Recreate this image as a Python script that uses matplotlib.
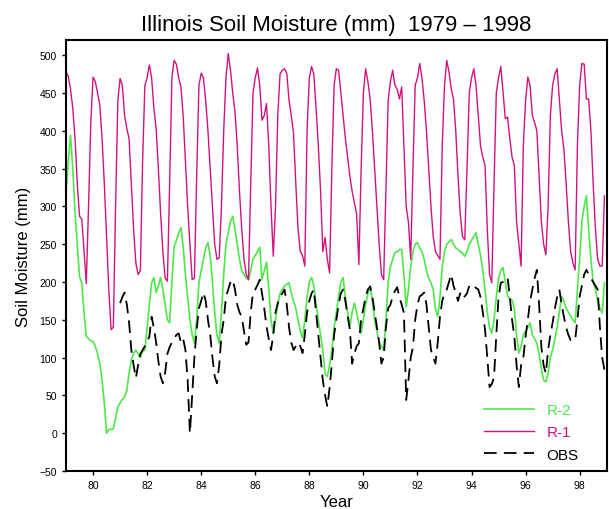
import numpy as np
import matplotlib
matplotlib.use('Agg')
import matplotlib.pyplot as plt

plt.rcParams['font.family'] = ['Liberation Sans', 'DejaVu Sans']

# monthly values, Jan..Dec, 1979-1998
r1 = [
    478, 472, 455, 430, 390, 330, 287, 283, 240, 198, 300, 410,   # 1979
    471, 465, 450, 434, 390, 330, 260, 190, 137, 140, 300, 440,   # 1980
    469, 460, 420, 403, 389, 330, 270, 225, 210, 215, 360, 460,   # 1981
    470, 487, 470, 430, 403, 350, 290, 240, 205, 201, 330, 470,   # 1982
    493, 488, 470, 458, 420, 360, 300, 250, 203, 205, 340, 460,   # 1983
    476, 470, 440, 400, 350, 300, 250, 230, 232, 300, 400, 470,   # 1984
    502, 480, 450, 425, 380, 320, 270, 230, 210, 203, 330, 450,   # 1985
    470, 483, 460, 414, 420, 436, 380, 300, 234, 300, 420, 475,   # 1986
    480, 482, 476, 440, 420, 396, 330, 270, 240, 235, 221, 400,   # 1987
    470, 485, 475, 430, 380, 320, 240, 259, 230, 212, 350, 460,   # 1988
    482, 480, 450, 420, 390, 365, 340, 320, 305, 290, 223, 350,   # 1989
    450, 482, 465, 442, 400, 350, 300, 250, 210, 203, 320, 440,   # 1990
    465, 480, 460, 455, 442, 458, 380, 300, 279, 230, 350, 460,   # 1991
    470, 489, 470, 440, 400, 350, 300, 260, 240, 235, 230, 380,   # 1992
    460, 493, 478, 455, 442, 400, 340, 290, 260, 256, 350, 450,   # 1993
    470, 482, 460, 420, 380, 365, 354, 270, 210, 199, 330, 450,   # 1994
    470, 485, 450, 416, 418, 390, 365, 354, 280, 250, 221, 380,   # 1995
    440, 471, 460, 420, 411, 400, 340, 280, 250, 236, 300, 420,   # 1996
    460, 475, 482, 440, 400, 376, 330, 280, 240, 225, 216, 380,   # 1997
    460, 489, 488, 442, 442, 400, 330, 270, 230, 221, 221, 314,   # 1998
]

r2 = [
    318, 360, 394, 350, 292, 250, 207, 199, 160, 128, 125, 122,   # 1979
    121, 115, 105, 92, 70, 40, 0, 5, 5, 6, 20, 35,                # 1980
    40, 45, 48, 57, 80, 97, 105, 110, 105, 100, 108, 110,         # 1981
    140, 170, 199, 206, 186, 195, 206, 190, 170, 150, 146, 200,   # 1982
    247, 255, 265, 272, 247, 210, 180, 150, 130, 119, 150, 199,   # 1983
    215, 230, 245, 252, 235, 200, 160, 130, 119, 160, 210, 250,   # 1984
    265, 280, 287, 270, 250, 230, 215, 210, 205, 203, 215, 230,   # 1985
    235, 240, 246, 203, 215, 226, 190, 150, 132, 150, 170, 185,   # 1986
    190, 195, 197, 199, 185, 175, 165, 150, 135, 126, 150, 180,   # 1987
    200, 206, 195, 170, 150, 130, 110, 79, 75, 90, 110, 140,      # 1988
    160, 180, 200, 206, 180, 160, 141, 160, 172, 160, 145, 132,   # 1989
    150, 170, 185, 194, 175, 150, 135, 120, 115, 110, 150, 200,   # 1990
    220, 230, 239, 240, 243, 243, 210, 167, 190, 220, 240, 250,   # 1991
    252, 245, 240, 230, 215, 205, 199, 190, 165, 154, 180, 220,   # 1992
    240, 250, 253, 256, 250, 245, 243, 240, 238, 234, 240, 250,   # 1993
    255, 260, 265, 250, 235, 216, 190, 160, 140, 132, 150, 180,   # 1994
    205, 215, 219, 200, 181, 178, 176, 165, 130, 106, 115, 130,   # 1995
    135, 140, 146, 130, 125, 119, 105, 85, 70, 68, 80, 100,       # 1996
    110, 125, 140, 160, 181, 175, 165, 160, 155, 150, 146, 190,   # 1997
    230, 280, 300, 314, 270, 230, 200, 190, 175, 165, 159, 199,   # 1998
]

nan = np.nan
obs = [
    nan, nan, nan, nan, nan, nan, nan, nan, nan, nan, nan, nan,   # 1979
    nan, nan, nan, nan, nan, nan, nan, nan, nan, nan, nan, nan,   # 1980
    172, 180, 186, 170, 146, 110, 90, 73, 90, 105, 110, 115,      # 1981
    120, 128, 154, 139, 120, 95, 75, 66, 80, 105, 114, 120,       # 1982
    125, 130, 132, 120, 125, 110, 70, 0, 50, 101, 137, 165,       # 1983
    175, 186, 175, 150, 130, 100, 75, 66, 90, 130, 150, 180,      # 1984
    190, 200, 203, 190, 170, 160, 154, 135, 117, 120, 160, 186,   # 1985
    190, 196, 203, 185, 165, 141, 125, 110, 130, 160, 172, 180,   # 1986
    185, 190, 170, 140, 120, 110, 115, 120, 115, 106, 130, 160,   # 1987
    175, 185, 190, 160, 130, 100, 70, 50, 35, 60, 92, 130,        # 1988
    150, 170, 185, 190, 175, 155, 137, 92, 105, 115, 119, 150,    # 1989
    165, 180, 190, 194, 180, 160, 140, 120, 92, 100, 140, 165,    # 1990
    170, 181, 188, 193, 180, 170, 159, 44, 70, 100, 114, 150,     # 1991
    170, 181, 183, 186, 170, 140, 110, 100, 92, 120, 154, 175,    # 1992
    185, 190, 200, 210, 195, 186, 175, 185, 178, 181, 185, 195,   # 1993
    197, 195, 192, 190, 180, 160, 137, 100, 61, 65, 74, 130,      # 1994
    180, 199, 200, 203, 206, 180, 150, 128, 90, 61, 90, 100,      # 1995
    128, 150, 175, 190, 205, 216, 170, 114, 90, 79, 110, 130,     # 1996
    146, 165, 180, 190, 170, 154, 140, 130, 123, 123, 123, 150,   # 1997
    181, 195, 210, 216, 210, 205, 200, 195, 190, 140, 100, 84,    # 1998
]

years = 79 + np.arange(len(r1)) / 12.0

fig = plt.figure(figsize=(6.09, 5.10), dpi=100)
ax = fig.add_axes([0.1084, 0.0745, 0.8878, 0.8451])

ax.plot(years, r2, color='#4ee84a', lw=1.2, label='R-2')
ax.plot(years, r1, color='#d0137e', lw=1.0, label='R-1')
ax.plot(years, obs, color='black', lw=1.3, dashes=(7, 4), label='OBS')

ax.set_xlim(79, 99)
ax.set_ylim(-50, 520)
ax.set_xticks(np.arange(80, 99, 2))
ax.set_yticks(np.arange(-50, 501, 50))
ax.tick_params(labelsize=7.5, length=3, width=1, direction='out')
for s in ax.spines.values():
    s.set_linewidth(1.5)

ax.set_title('Illinois Soil Moisture (mm)  1979 – 1998', fontsize=16, pad=7)
ax.set_xlabel('Year', fontsize=12, labelpad=3)
ax.set_ylabel('Soil Moisture (mm)', fontsize=12, labelpad=6)

# legend: line then coloured text, no frame
leg = ax.legend(loc='lower right', bbox_to_anchor=(0.965, 0.0), frameon=False, fontsize=11,
                handlelength=3.3, labelcolor='linecolor', borderaxespad=0.2, labelspacing=0.55)

fig.savefig('out.png', dpi=100)
